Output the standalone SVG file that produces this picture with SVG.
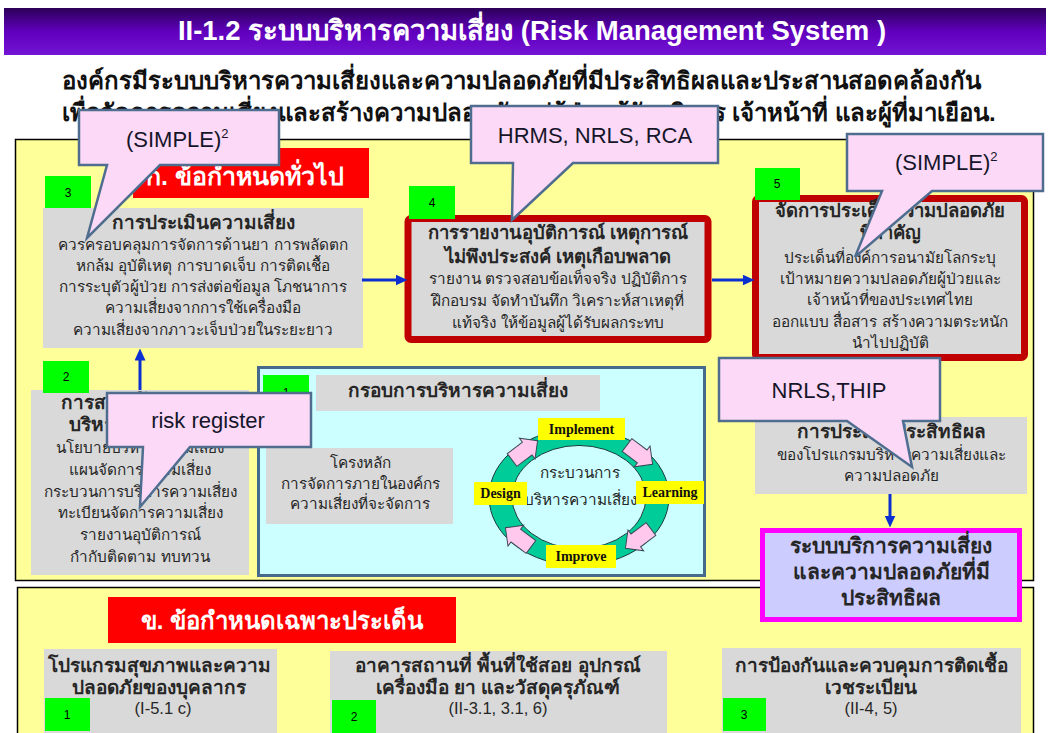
<svg xmlns="http://www.w3.org/2000/svg" width="1049" height="733" viewBox="0 0 1049 733">
  <defs>
    <linearGradient id="barGrad" x1="0" y1="0" x2="0" y2="1">
      <stop offset="0" stop-color="#2c0058"/>
      <stop offset="0.5" stop-color="#6000bd"/>
      <stop offset="1" stop-color="#7414d4"/>
    </linearGradient>
    <marker id="arrowHead" markerUnits="userSpaceOnUse" markerWidth="12" markerHeight="11" viewBox="0 0 12 11" refX="0.5" refY="5.5" orient="auto">
      <path d="M0,0 L12,5.5 L0,11 Z" fill="#0b2fd0"/>
    </marker>
    <path id="blockArrow" d="M-15,-8 L4,-8 L4,-13 L17,0 L4,13 L4,8 L-15,8 Z"/>
  </defs>
  <style>
    .sans { font-family: 'Liberation Sans', 'Noto Sans', 'DejaVu Sans', sans-serif; }
    .txt { fill: #262626; text-anchor: middle; }
    .hd { font-weight: bold; font-size: 19px; }
    .hd2 { font-weight: bold; font-size: 18.5px; }
    .bd { font-size: 15.3px; }
    .gray { fill: #d9d9d9; }
    .green { fill: #00ff00; }
    .num { font-size: 12px; fill: #000; text-anchor: middle; }
    .panel { fill: #ffff99; stroke: #000; stroke-width: 1.5; }
    .redbox { fill: #d9d9d9; stroke: #c00000; stroke-width: 7; }
    .banner { fill: #ff0000; }
    .bannerText { fill: #fff; font-weight: bold; text-anchor: middle; }
    .link { stroke: #0b2fd0; stroke-width: 3; fill: none; marker-end: url(#arrowHead); }
    .callout { fill: #fcd9f6; stroke: #4f6d8f; stroke-width: 2.5; stroke-linejoin: miter; }
    .calloutText { fill: #15152a; font-size: 22px; }
    .tag { fill: #ffff00; }
    .tagText { font-family: 'Liberation Serif', serif; font-weight: bold; font-size: 14px; fill: #111; text-anchor: middle; }
    .pinkArrow { fill: #ffc8ec; stroke: #3a4a5a; stroke-width: 1; }
    .ref { font-size: 16.5px; }
  </style>

  <rect width="1049" height="733" fill="#ffffff"/>

  <!-- heading bar -->
  <g id="title">
    <rect x="4" y="8" width="1042" height="47" fill="url(#barGrad)"/>
    <text class="sans" x="532" y="40" font-size="27.5" font-weight="bold" fill="#ffffff" text-anchor="middle">II-1.2 ระบบบริหารความเสี่ยง (Risk Management System )</text>
  </g>

  <g id="intro" class="sans" font-size="24" font-weight="bold" fill="#111">
    <text x="62" y="89">องค์กรมีระบบบริหารความเสี่ยงและความปลอดภัยที่มีประสิทธิผลและประสานสอดคล้องกัน</text>
    <text x="62" y="121">เพื่อจัดการความเสี่ยงและสร้างความปลอดภัยแก่ผู้ป่วย ผู้รับบริการ เจ้าหน้าที่ และผู้ที่มาเยือน.</text>
  </g>

  <!-- panels -->
  <rect class="panel" x="15.5" y="139.5" width="1018" height="441"/>
  <rect class="panel" x="17.5" y="587.5" width="1016" height="150"/>

  <g id="general-header">
    <rect class="banner" x="133" y="148" width="236" height="50"/>
    <text class="sans bannerText" x="245" y="185" font-size="25">ก. ข้อกำหนดทั่วไป</text>
  </g>

  <!-- step 3: risk assessment -->
  <g id="node-3" class="sans">
    <rect class="gray" x="43" y="208" width="320" height="140"/>
    <rect class="green" x="45" y="176" width="46" height="32"/>
    <text class="num" x="68" y="197">3</text>
    <text class="txt hd" x="203" y="229">การประเมินความเสี่ยง</text>
    <text class="txt bd" x="203" y="250">ควรครอบคลุมการจัดการด้านยา การพลัดตก</text>
    <text class="txt bd" x="203" y="271">หกล้ม อุบัติเหตุ การบาดเจ็บ การติดเชื้อ</text>
    <text class="txt bd" x="203" y="292">การระบุตัวผู้ป่วย การส่งต่อข้อมูล โภชนาการ</text>
    <text class="txt bd" x="203" y="313">ความเสี่ยงจากการใช้เครื่องมือ</text>
    <text class="txt bd" x="203" y="335">ความเสี่ยงจากภาวะเจ็บป่วยในระยะยาว</text>
  </g>

  <!-- step 4: incident reporting -->
  <g id="node-4" class="sans">
    <rect class="redbox" x="408" y="218.5" width="300" height="121" rx="3"/>
    <rect class="green" x="409" y="186" width="46" height="33"/>
    <text class="num" x="432" y="207">4</text>
    <text class="txt hd2" x="558" y="239">การรายงานอุบัติการณ์ เหตุการณ์</text>
    <text class="txt hd2" x="558" y="263">ไม่พึงประสงค์ เหตุเกือบพลาด</text>
    <text class="txt bd" x="558" y="284">รายงาน ตรวจสอบข้อเท็จจริง ปฏิบัติการ</text>
    <text class="txt bd" x="558" y="306">ฝึกอบรม จัดทำบันทึก วิเคราะห์สาเหตุที่</text>
    <text class="txt bd" x="558" y="328">แท้จริง ให้ข้อมูลผู้ได้รับผลกระทบ</text>
  </g>

  <!-- step 5: key safety issues -->
  <g id="node-5" class="sans">
    <rect class="redbox" x="755.5" y="198.5" width="269" height="159" rx="3"/>
    <rect class="green" x="755" y="168" width="45" height="32"/>
    <text class="num" x="777" y="188">5</text>
    <text class="txt hd2" x="890" y="217">จัดการประเด็นความปลอดภัย</text>
    <text class="txt hd2" x="890" y="239">ที่สำคัญ</text>
    <text class="txt bd" x="890" y="263">ประเด็นที่องค์การอนามัยโลกระบุ</text>
    <text class="txt bd" x="890" y="284">เป้าหมายความปลอดภัยผู้ป่วยและ</text>
    <text class="txt bd" x="890" y="305">เจ้าหน้าที่ของประเทศไทย</text>
    <text class="txt bd" x="890" y="327">ออกแบบ สื่อสาร สร้างความตระหนัก</text>
    <text class="txt bd" x="890" y="348">นำไปปฏิบัติ</text>
  </g>

  <!-- step 2: building the system -->
  <g id="node-2" class="sans">
    <rect class="gray" x="31" y="390" width="218" height="185"/>
    <rect class="green" x="43" y="361" width="46" height="32"/>
    <text class="num" x="66" y="381">2</text>
    <text class="txt hd" x="140" y="409">การสร้างโครงสร้าง</text>
    <text class="txt hd" x="140" y="431">บริหารความเสี่ยง</text>
    <text class="txt bd" x="140" y="453">นโยบายบริหารความเสี่ยง</text>
    <text class="txt bd" x="140" y="475">แผนจัดการความเสี่ยง</text>
    <text class="txt bd" x="140" y="497">กระบวนการบริหารความเสี่ยง</text>
    <text class="txt bd" x="140" y="518">ทะเบียนจัดการความเสี่ยง</text>
    <text class="txt bd" x="140" y="540">รายงานอุบัติการณ์</text>
    <text class="txt bd" x="140" y="562">กำกับติดตาม ทบทวน</text>
  </g>

  <!-- step 1: framework with the process cycle -->
  <g id="node-1" class="sans">
    <rect x="258.5" y="367.5" width="446" height="208" fill="#ccffff" stroke="#456a8e" stroke-width="3"/>
    <rect class="green" x="263" y="375" width="46" height="35"/>
    <text class="num" x="286" y="397">1</text>
    <rect class="gray" x="316" y="375" width="284" height="36"/>
    <text class="txt hd" x="458" y="397">กรอบการบริหารความเสี่ยง</text>
    <rect class="gray" x="266" y="448" width="187" height="76"/>
    <text class="txt bd" x="360" y="468">โครงหลัก</text>
    <text class="txt bd" x="360" y="489">การจัดการภายในองค์กร</text>
    <text class="txt bd" x="360" y="509">ความเสี่ยงที่จะจัดการ</text>

    <g id="cycle">
      <path d="M489,497 a90,68.5 0 1,0 180,0 a90,68.5 0 1,0 -180,0 Z M512,497 a67,51.5 0 1,1 134,0 a67,51.5 0 1,1 -134,0 Z" fill="#00cc99" fill-rule="evenodd" stroke="#1d3b3b" stroke-width="1"/>
      <use href="#blockArrow" class="pinkArrow" transform="translate(524,451) rotate(-37)"/>
      <use href="#blockArrow" class="pinkArrow" transform="translate(639,454) rotate(37)"/>
      <use href="#blockArrow" class="pinkArrow" transform="translate(639,538) rotate(143)"/>
      <use href="#blockArrow" class="pinkArrow" transform="translate(519,538) rotate(-143)"/>
      <text class="txt bd" x="580" y="478">กระบวนการ</text>
      <text class="txt bd" x="580" y="505">บริหารความเสี่ยง</text>
      <rect class="tag" x="538" y="418" width="87" height="22"/>
      <text class="tagText" x="581.5" y="434">Implement</text>
      <rect class="tag" x="636" y="481" width="68" height="23"/>
      <text class="tagText" x="670" y="497">Learning</text>
      <rect class="tag" x="546" y="545" width="70" height="23"/>
      <text class="tagText" x="581" y="561">Improve</text>
      <rect class="tag" x="474" y="482" width="53" height="23"/>
      <text class="tagText" x="500.5" y="498">Design</text>
    </g>
  </g>

  <!-- evaluation -->
  <g id="node-6" class="sans">
    <rect class="gray" x="755" y="417" width="272" height="77"/>
    <text class="txt hd" x="891" y="438">การประเมินประสิทธิผล</text>
    <text class="txt bd" x="891" y="460">ของโปรแกรมบริหารความเสี่ยงและ</text>
    <text class="txt bd" x="891" y="481">ความปลอดภัย</text>
  </g>

  <!-- outcome -->
  <g id="node-7" class="sans">
    <rect x="762.5" y="530.5" width="257" height="89" fill="#ccccff" stroke="#ff00ff" stroke-width="5"/>
    <text class="txt" x="891" y="553" font-size="21" font-weight="bold">ระบบบริการความเสี่ยง</text>
    <text class="txt" x="891" y="579" font-size="21" font-weight="bold">และความปลอดภัยที่มี</text>
    <text class="txt" x="891" y="605" font-size="21" font-weight="bold">ประสิทธิผล</text>
  </g>

  <!-- specific requirements -->
  <g id="specific-header">
    <rect class="banner" x="108" y="597" width="348" height="46"/>
    <text class="sans bannerText" x="282" y="629" font-size="24">ข. ข้อกำหนดเฉพาะประเด็น</text>
  </g>

  <g id="spec-1" class="sans">
    <rect class="gray" x="44" y="649" width="233" height="90"/>
    <rect class="green" x="45" y="698" width="45" height="33"/>
    <text class="num" x="67" y="719">1</text>
    <text class="txt hd" x="159" y="672">โปรแกรมสุขภาพและความ</text>
    <text class="txt hd" x="159" y="694">ปลอดภัยของบุคลากร</text>
    <text class="txt ref" x="163" y="714">(I-5.1 c)</text>
  </g>

  <g id="spec-2" class="sans">
    <rect class="gray" x="330" y="651" width="337" height="90"/>
    <rect class="green" x="332" y="700" width="44" height="33"/>
    <text class="num" x="354" y="721">2</text>
    <text class="txt hd" x="498" y="672">อาคารสถานที่ พื้นที่ใช้สอย อุปกรณ์</text>
    <text class="txt hd" x="498" y="694">เครื่องมือ ยา และวัสดุครุภัณฑ์</text>
    <text class="txt ref" x="498" y="714">(II-3.1, 3.1, 6)</text>
  </g>

  <g id="spec-3" class="sans">
    <rect class="gray" x="722" y="648" width="299" height="90"/>
    <rect class="green" x="723" y="698" width="43" height="33"/>
    <text class="num" x="744" y="719">3</text>
    <text class="txt hd" x="871" y="672">การป้องกันและควบคุมการติดเชื้อ</text>
    <text class="txt hd" x="871" y="694">เวชระเบียน</text>
    <text class="txt ref" x="871" y="714">(II-4, 5)</text>
  </g>

  <!-- connectors -->
  <g id="connectors">
    <line class="link" x1="362" y1="280" x2="396" y2="280"/>
    <line class="link" x1="712" y1="280" x2="743" y2="280"/>
    <line class="link" x1="140" y1="390" x2="140" y2="360"/>
    <line class="link" x1="890" y1="494" x2="890" y2="516"/>
  </g>

  <!-- speech-bubble notes -->
  <g id="note-simple-left" class="sans">
    <path class="callout" d="M79,110 H279 V165 H160 L87,238 L107,165 H79 Z"/>
    <text class="calloutText" x="126" y="147">(SIMPLE)<tspan dy="-9" font-size="13">2</tspan></text>
  </g>
  <g id="note-hrms" class="sans">
    <path class="callout" d="M471,106 H718 V163 H573 L512,220 L513,163 H471 Z"/>
    <text class="calloutText" x="595" y="143" font-size="23" text-anchor="middle">HRMS, NRLS, RCA</text>
  </g>
  <g id="note-simple-right" class="sans">
    <path class="callout" d="M847,134 H1043 V191 H932 L855,257 L882,191 H847 Z"/>
    <text class="calloutText" x="895" y="170">(SIMPLE)<tspan dy="-9" font-size="13">2</tspan></text>
  </g>
  <g id="note-nrls" class="sans">
    <path class="callout" d="M719,358 H940 V421 H903 L912,467 L847,421 H719 Z"/>
    <text class="calloutText" x="829" y="398" font-size="23" text-anchor="middle">NRLS,THIP</text>
  </g>
  <g id="note-register" class="sans">
    <path class="callout" d="M107,393 H311 V447 H190 L140,507 L143,447 H107 Z"/>
    <text class="calloutText" x="208" y="428" font-size="23" text-anchor="middle">risk register</text>
  </g>
</svg>
